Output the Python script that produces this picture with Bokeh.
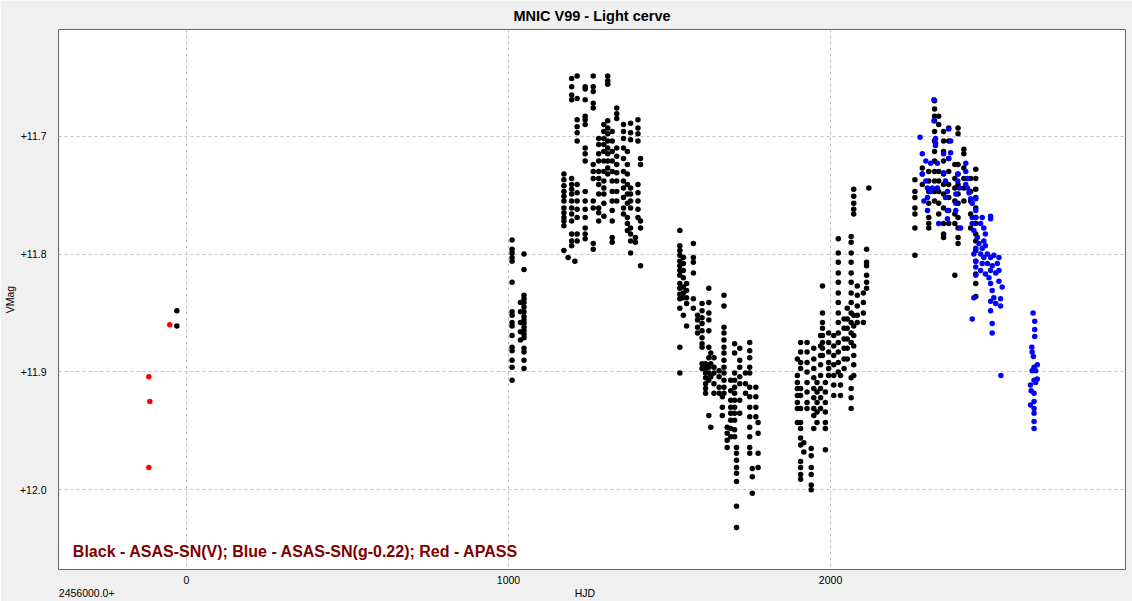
from bokeh.plotting import figure
from bokeh.models import Range1d, Label, FixedTicker, CustomJSTickFormatter, LinearAxis
from bokeh.embed import file_html
from bokeh.resources import INLINE

# ---------------- data (HJD - 2456000, V magnitude) ----------------
x_ticks = [0, 1000, 2000]
y_ticks = [11.7, 11.8, 11.9, 12.0]

# APASS (red)
red_hjd = [-52, -117, -114, -117]
red_mag = [11.860, 11.904, 11.925, 11.981]

# ASAS-SN V (black), grouped by night: one HJD per group, list of mags
b0_hjd = [-30]
b0_mag = [[11.848, 11.861]]

b1_hjd = [1011, 1037, 1048]
b1_mag = [
    [11.788, 11.796, 11.799, 11.803, 11.806, 11.824, 11.849, 11.852, 11.858, 11.861, 11.869, 11.879, 11.882, 11.890, 11.896, 11.907],
    [11.841, 11.849, 11.858, 11.866, 11.873],
    [11.800, 11.813, 11.835, 11.838, 11.841, 11.845, 11.849, 11.853, 11.856, 11.859, 11.862, 11.865, 11.868, 11.871, 11.880, 11.883, 11.890, 11.897],
]

b2_hjd = [1172, 1185, 1196, 1206, 1213, 1238, 1263, 1280, 1296, 1308, 1322, 1336, 1357, 1369, 1379, 1394, 1402, 1410]
b2_mag = [
    [11.732, 11.737, 11.742, 11.747, 11.751, 11.755, 11.761, 11.765, 11.769, 11.772, 11.776, 11.797],
    [11.803],
    [11.651, 11.658, 11.665, 11.669, 11.736, 11.741, 11.745, 11.749, 11.755, 11.761, 11.766, 11.772, 11.783, 11.789, 11.793],
    [11.806],
    [11.649, 11.668, 11.686, 11.692, 11.697, 11.704, 11.741, 11.748, 11.755, 11.762, 11.769, 11.783, 11.789],
    [11.658, 11.660, 11.669, 11.683, 11.686, 11.690, 11.710, 11.715, 11.721, 11.747, 11.755, 11.762, 11.769, 11.778, 11.783, 11.787],
    [11.649, 11.658, 11.662, 11.672, 11.676, 11.724, 11.730, 11.736, 11.755, 11.761, 11.791, 11.796],
    [11.702, 11.707, 11.715, 11.721, 11.730, 11.736, 11.741, 11.749, 11.761, 11.765, 11.772],
    [11.690, 11.696, 11.702, 11.707, 11.713, 11.721, 11.730, 11.738, 11.744, 11.749, 11.757, 11.768],
    [11.649, 11.653, 11.656, 11.687, 11.693, 11.698, 11.704, 11.710, 11.715, 11.721, 11.727, 11.732],
    [11.696, 11.704, 11.713, 11.721, 11.730, 11.738, 11.747, 11.755, 11.763, 11.772, 11.786, 11.790],
    [11.676, 11.681, 11.685, 11.710, 11.717, 11.724, 11.731, 11.738, 11.747, 11.755],
    [11.690, 11.696, 11.702, 11.710, 11.719, 11.730, 11.738, 11.744, 11.752, 11.761, 11.766],
    [11.713, 11.724, 11.732, 11.741, 11.749, 11.757, 11.769, 11.774, 11.780],
    [11.689, 11.697, 11.703, 11.744, 11.749, 11.755, 11.761, 11.778, 11.783, 11.789, 11.799],
    [11.786, 11.790],
    [11.686, 11.693, 11.698, 11.704, 11.741, 11.748, 11.755, 11.762, 11.769],
    [11.719, 11.724, 11.772, 11.778, 11.810],
]

b3_hjd = [1532, 1543, 1553, 1574, 1587, 1601, 1612, 1622, 1628, 1638, 1654, 1664, 1669, 1679, 1690, 1702, 1708, 1718, 1736, 1749, 1757, 1768, 1775]
b3_mag = [
    [11.780, 11.793, 11.797, 11.801, 11.806, 11.810, 11.814, 11.818, 11.825, 11.829, 11.834, 11.838, 11.846, 11.879, 11.901],
    [11.803, 11.808, 11.814, 11.820, 11.828, 11.833, 11.837, 11.852],
    [11.825, 11.831, 11.837, 11.842, 11.861],
    [11.791, 11.803, 11.807, 11.816, 11.838, 11.846],
    [11.852, 11.856, 11.862, 11.867],
    [11.842, 11.848, 11.854, 11.859, 11.865, 11.871, 11.876, 11.879, 11.893, 11.897],
    [11.893, 11.897, 11.901, 11.905, 11.910, 11.914, 11.918],
    [11.829, 11.841, 11.850, 11.856, 11.865, 11.879, 11.888, 11.896, 11.901, 11.907, 11.937],
    [11.884, 11.893, 11.904, 11.947],
    [11.888, 11.896, 11.901, 11.910, 11.918],
    [11.899, 11.904, 11.913, 11.918],
    [11.921, 11.930, 11.937],
    [11.835, 11.844, 11.862, 11.867, 11.873, 11.879, 11.884, 11.890, 11.896, 11.901, 11.907, 11.913, 11.918],
    [11.947, 11.952, 11.958, 11.964],
    [11.907, 11.916, 11.924, 11.930, 11.935, 11.941, 11.948, 11.955],
    [11.876, 11.884, 11.901, 11.907, 11.913, 11.918, 11.924, 11.930, 11.935, 11.941, 11.949, 11.955],
    [11.964, 11.969, 11.975, 11.981, 11.986, 11.993, 12.014, 12.032],
    [11.880, 11.890, 11.896, 11.904, 11.910, 11.924, 11.935],
    [11.901, 11.910, 11.918],
    [11.875, 11.882, 11.888, 11.896, 11.901, 11.913, 11.921, 11.930, 11.938, 11.947, 11.955, 11.964, 11.969],
    [11.982, 11.989, 12.003],
    [11.913, 11.921, 11.930, 11.938],
    [11.943, 11.952, 11.969, 11.981],
]

b4_hjd = [1897, 1907, 1917, 1927, 1940, 1948, 1958, 1969, 1975, 1984, 1994, 2010, 2024, 2031, 2042, 2052, 2064, 2072, 2083, 2102, 2112, 2119]
b4_mag = [
    [11.889, 11.903, 11.909, 11.914, 11.920, 11.926, 11.931, 11.943],
    [11.875, 11.883, 11.892, 11.897, 11.914, 11.920, 11.931, 11.943, 11.948, 11.956, 11.962, 11.976, 11.981, 11.987, 11.991],
    [11.960, 11.968],
    [11.875, 11.883, 11.892, 11.900, 11.909, 11.917, 11.926, 11.931],
    [11.965, 11.971, 11.981, 11.987, 11.996, 12.000],
    [11.880, 11.889, 11.897, 11.905, 11.914, 11.922, 11.931, 11.937, 11.948],
    [11.909, 11.917, 11.926, 11.934, 11.943],
    [11.869, 11.878, 11.886, 11.894, 11.903, 11.914, 11.922, 11.931],
    [11.827, 11.850, 11.858, 11.863, 11.869, 11.875, 11.880, 11.886],
    [11.909, 11.917, 11.926, 11.934, 11.943, 11.948, 11.966],
    [11.867, 11.875, 11.883, 11.892, 11.897, 11.903],
    [11.869, 11.878, 11.886, 11.894, 11.903, 11.911, 11.920],
    [11.787, 11.799, 11.807, 11.816, 11.824, 11.833, 11.841, 11.850, 11.858, 11.867, 11.875, 11.883, 11.892, 11.900],
    [11.903, 11.911, 11.920],
    [11.855, 11.863, 11.872, 11.880, 11.889, 11.897],
    [11.846, 11.855, 11.863, 11.872, 11.880, 11.889],
    [11.785, 11.790, 11.799, 11.807, 11.816, 11.824, 11.833, 11.841, 11.850, 11.858, 11.867, 11.875, 11.905, 11.914, 11.922, 11.931],
    [11.745, 11.751, 11.757, 11.762, 11.766, 11.852, 11.861, 11.869, 11.878, 11.886, 11.894, 11.903],
    [11.827, 11.835, 11.844, 11.852, 11.858],
    [11.833, 11.841, 11.850, 11.858],
    [11.796, 11.807, 11.810, 11.818, 11.824, 11.829],
    [11.744],
]

b5_hjd = [2262, 2285, 2305, 2323, 2336, 2351, 2367, 2386, 2396, 2414, 2435, 2451]
b5_mag = [
    [11.737, 11.747, 11.752, 11.761, 11.766, 11.778, 11.801],
    [11.727, 11.732, 11.741],
    [11.730, 11.738, 11.747, 11.757, 11.769, 11.774, 11.778],
    [11.670, 11.677, 11.683, 11.687, 11.696, 11.704, 11.713, 11.721, 11.730, 11.738, 11.747, 11.755],
    [11.683, 11.690, 11.730, 11.738, 11.747, 11.757, 11.766],
    [11.696, 11.704, 11.713, 11.721, 11.732, 11.741, 11.749, 11.761, 11.774, 11.783, 11.786],
    [11.693, 11.704, 11.719, 11.730, 11.741, 11.752, 11.763, 11.774],
    [11.724, 11.736, 11.744, 11.755, 11.766, 11.774, 11.818],
    [11.693, 11.698, 11.724, 11.732, 11.741, 11.749, 11.757, 11.769, 11.778, 11.786, 11.791],
    [11.711, 11.715, 11.727, 11.736, 11.744, 11.755],
    [11.736, 11.747, 11.755, 11.766, 11.778],
    [11.728, 11.736, 11.745, 11.752, 11.761, 11.769, 11.774, 11.783, 11.789, 11.797, 11.806, 11.817, 11.825, 11.836],
]

# ASAS-SN g - 0.22 (blue)
blue_hjd = [2321, 2321, 2278, 2367, 2326, 2326, 2326, 2373, 2285, 2296, 2311, 2332, 2351, 2367, 2373,
            2285, 2296, 2301, 2311, 2316, 2290, 2301, 2301, 2332, 2351, 2357, 2363, 2357, 2363, 2363,
            2336, 2389, 2389, 2389, 2395, 2395, 2400, 2404, 2420, 2420, 2425, 2420, 2425, 2430, 2435,
            2440, 2451, 2451, 2440, 2440, 2445, 2451, 2456, 2471, 2497, 2497, 2466, 2476, 2481, 2476,
            2451, 2461, 2471, 2481, 2445, 2451, 2466, 2476, 2487, 2497, 2507, 2523, 2471, 2487, 2502,
            2518, 2451, 2466, 2481, 2497, 2513, 2523, 2451, 2445, 2492, 2497, 2502, 2507, 2523, 2533,
            2497, 2513, 2528, 2528, 2497, 2440, 2502, 2502, 2529,
            2629, 2634, 2634, 2634, 2625, 2626, 2630, 2642, 2632, 2626, 2637, 2642, 2637, 2632, 2621,
            2623, 2632, 2621, 2632, 2632, 2632, 2632, 2632]
blue_mag = [11.669, 11.687, 11.701, 11.694, 11.702, 11.706, 11.708, 11.704, 11.715, 11.721, 11.723, 11.723, 11.715, 11.719, 11.714,
            11.732, 11.738, 11.744, 11.747, 11.744, 11.755, 11.752, 11.763, 11.744, 11.731, 11.738, 11.747, 11.752, 11.763, 11.770,
            11.774, 11.749, 11.757, 11.763, 11.732, 11.738, 11.744, 11.778, 11.723, 11.730, 11.736, 11.741, 11.744, 11.748, 11.753,
            11.757, 11.753, 11.763, 11.769, 11.774, 11.780, 11.769, 11.786, 11.769, 11.768, 11.770, 11.774, 11.778, 11.783, 11.789,
            11.795, 11.791, 11.795, 11.793, 11.800, 11.806, 11.800, 11.803, 11.800, 11.803, 11.801, 11.803, 11.808, 11.808, 11.810,
            11.808, 11.811, 11.814, 11.817, 11.814, 11.816, 11.814, 11.818, 11.837, 11.820, 11.825, 11.831, 11.837, 11.823, 11.828,
            11.840, 11.842, 11.838, 11.844, 11.848, 11.855, 11.859, 11.867, 11.903,
            11.850, 11.857, 11.864, 11.870, 11.879, 11.883, 11.887, 11.894, 11.896, 11.899, 11.899, 11.906, 11.909, 11.907, 11.911,
            11.916, 11.918, 11.928, 11.925, 11.931, 11.935, 11.942, 11.948]


def expand(hjds, mags):
    xs, ys = [], []
    for x, ms in zip(hjds, mags):
        for m in ms:
            xs.append(x)
            ys.append(m)
    return xs, ys


black_hjd, black_mag = [], []
for h, m in [(b0_hjd, b0_mag), (b1_hjd, b1_mag), (b2_hjd, b2_mag), (b3_hjd, b3_mag), (b4_hjd, b4_mag), (b5_hjd, b5_mag)]:
    xs, ys = expand(h, m)
    black_hjd += xs
    black_mag += ys

# ---------------- figure ----------------
FONT = "Liberation Sans"

p = figure(width=1132, height=601,
           x_range=Range1d(-397.6, 2916), y_range=Range1d(12.0676, 11.6095),
           output_backend="svg", toolbar_location=None,
           min_border_left=58, min_border_right=7, min_border_top=28, min_border_bottom=31,
           border_fill_color="#f0f0f0", background_fill_color="white",
           outline_line_color="#646464", outline_line_width=1)

p.title.text = "MNIC V99 - Light cerve"
p.title.align = "center"
p.title.text_font = FONT
p.title.text_font_size = "14.5px"
p.title.text_font_style = "bold"
p.title.text_color = "black"
p.title.standoff = 11


def style_axis(ax, standoff):
    ax.axis_line_color = None
    ax.major_tick_line_color = None
    ax.minor_tick_line_color = None
    ax.major_tick_out = 0
    ax.major_tick_in = 0
    ax.minor_tick_out = 0
    ax.minor_tick_in = 0
    ax.major_label_text_font = FONT
    ax.major_label_text_font_size = "10.5px"
    ax.major_label_text_color = "black"
    ax.major_label_standoff = standoff


for ax in p.xaxis:
    style_axis(ax, 6)
    ax.ticker = FixedTicker(ticks=x_ticks)
for ax in p.yaxis:
    style_axis(ax, 12)
    ax.ticker = FixedTicker(ticks=y_ticks)
    ax.formatter = CustomJSTickFormatter(code="return '+' + tick.toFixed(1);")
    ax.axis_label = "VMag"
    ax.axis_label_text_font = FONT
    ax.axis_label_text_font_size = "10.5px"
    ax.axis_label_text_font_style = "normal"
    ax.axis_label_text_color = "black"
    ax.axis_label_standoff = 1

# second row under the x axis: the HJD zero point and the axis name
name_axis = LinearAxis(ticker=FixedTicker(ticks=[-310, 1237]),
                       formatter=CustomJSTickFormatter(code="return tick < 0 ? '2456000.0+' : 'HJD';"))
style_axis(name_axis, 0)
p.add_layout(name_axis, "below")

p.grid.grid_line_color = "#c0c0c0"
p.grid.grid_line_dash = "3 3"
p.grid.grid_line_width = 1
p.xgrid.ticker = FixedTicker(ticks=x_ticks)
p.ygrid.ticker = FixedTicker(ticks=y_ticks)

p.scatter(black_hjd, black_mag, size=5.5, color="black", line_color=None)
p.scatter(blue_hjd, blue_mag, size=5.5, color="#0000ff", line_color=None)
p.scatter(red_hjd, red_mag, size=5.5, color="#ff0000", line_color=None)

p.add_layout(Label(x=-353, y=12.0522, text="Black - ASAS-SN(V); Blue - ASAS-SN(g-0.22); Red - APASS",
                   text_font=FONT, text_font_size="16px", text_font_style="bold",
                   text_color="#800000", text_baseline="alphabetic", text_align="left"))

open("out.html", "w").write(file_html(p, INLINE))
